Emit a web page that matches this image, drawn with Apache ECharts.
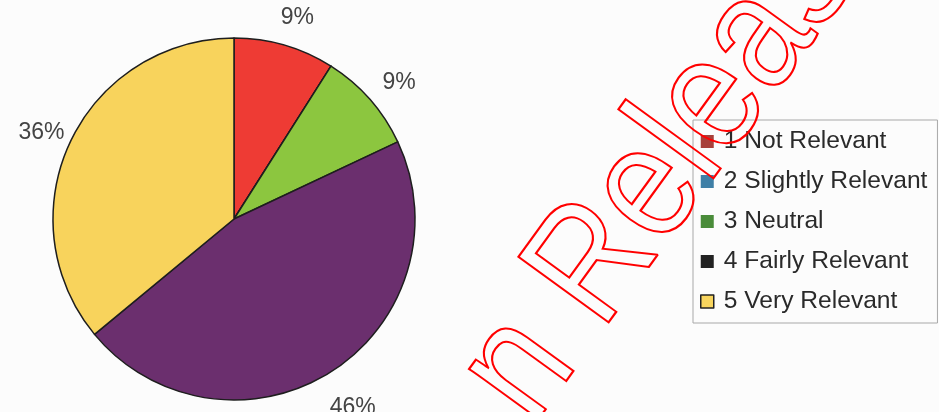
<!DOCTYPE html>
<html>
<head>
<meta charset="utf-8">
<script src="https://cdn.jsdelivr.net/npm/echarts@6/dist/echarts.min.js"></script>
<style>
  html, body { margin: 0; padding: 0; background: #fcfcfc; }
  #chart { width: 939px; height: 412px; }
</style>
</head>
<body>
<div id="chart"></div>
<script>
// Survey answers: share of responses per relevance rating (%)
const categories = ['1 Not Relevant', '2 Slightly Relevant', '3 Neutral', '4 Fairly Relevant', '5 Very Relevant'];
const shares = [9, 0, 9, 46, 36];
const sliceColors = ['#ee3b34', '#3f7fa6', '#8cc63f', '#6b2f6e', '#f8d35c'];
const legendColors = ['#a8403a', '#3f7fa6', '#4a8c3a', '#222222', '#f8d55e'];

const sliceData = categories.map((c, i) => ({
  name: c,
  value: shares[i],
  itemStyle: { color: sliceColors[i] }
}));

const labelData = categories.map((c, i) => ({
  name: c,
  value: shares[i],
  label: { show: shares[i] > 0 }
}));

const chart = echarts.init(document.getElementById('chart'), null, { renderer: 'canvas' });

// Watermark stamp running diagonally across the page
const stampAngle = 54 * Math.PI / 180;

chart.setOption({
  backgroundColor: '#fcfcfc',
  animation: false,
  textStyle: { fontFamily: 'Liberation Sans, Arial, sans-serif' },
  legend: {
    orient: 'vertical',
    left: 693,
    top: 120,
    padding: [9, 10, 9, 7],
    itemGap: 15,
    itemWidth: 13,
    itemHeight: 13,
    icon: 'rect',
    borderColor: '#a8a8a8',
    borderWidth: 1,
    selectedMode: false,
    textStyle: { fontSize: 24.6, color: '#2a2a2a', padding: [0, 0, 0, 5] },
    data: categories.map((c, i) => ({
      name: c,
      itemStyle: {
        color: legendColors[i],
        borderColor: i === 4 ? '#222' : legendColors[i],
        borderWidth: i === 4 ? 1.5 : 0
      }
    }))
  },
  series: [
    {
      type: 'pie',
      center: [234, 219],
      radius: [0, 181],
      startAngle: 90,
      clockwise: true,
      avoidLabelOverlap: false,
      silent: true,
      label: { show: false },
      labelLine: { show: false },
      itemStyle: { borderColor: '#1e1e1e', borderWidth: 1.5 },
      data: sliceData
    },
    {
      // invisible ring that carries the percentage labels around the pie
      type: 'pie',
      center: [237, 225],
      radius: [200, 226],
      startAngle: 90,
      clockwise: true,
      avoidLabelOverlap: false,
      silent: true,
      itemStyle: { color: 'rgba(0,0,0,0)', borderWidth: 0 },
      label: {
        position: 'inside',
        formatter: '{c}%',
        fontSize: 23,
        color: '#444',
        fontFamily: 'Liberation Sans, Arial, sans-serif'
      },
      labelLine: { show: false },
      data: labelData
    }
  ],
  graphic: [
    {
      type: 'text',
      x: 541,
      y: 433,
      rotation: stampAngle,
      scaleX: 0.87,
      silent: true,
      z: 100,
      style: {
        text: 'n Release',
        x: 0,
        y: -55,
        fontSize: 162,
        fontFamily: 'Liberation Sans, Arial, sans-serif',
        align: 'left',
        verticalAlign: 'middle',
        fill: 'none',
        stroke: '#ff0000',
        lineWidth: 2.2
      }
    }
  ]
});
</script>
</body>
</html>
